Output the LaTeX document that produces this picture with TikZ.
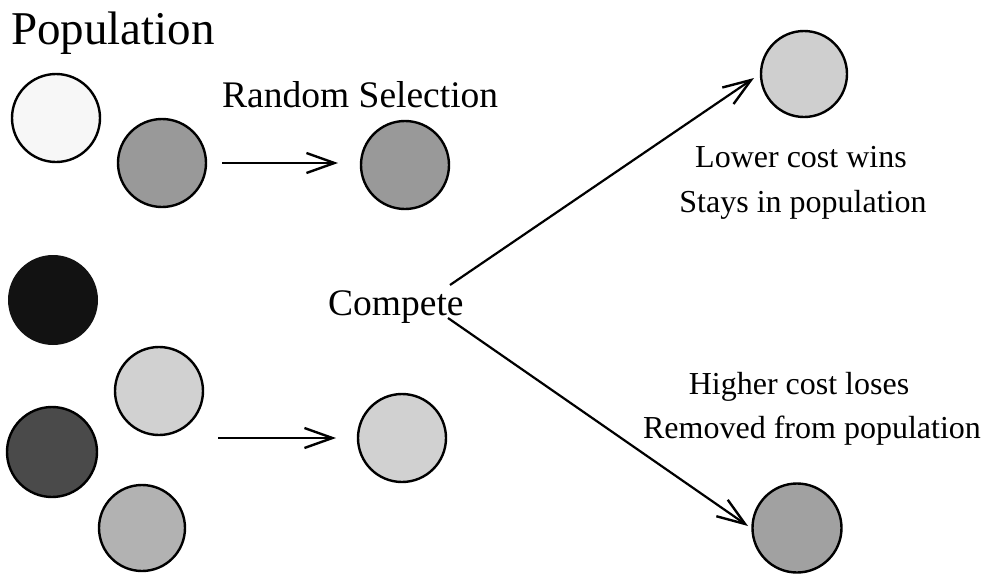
\documentclass[tikz,border=0pt]{standalone}
\usepackage{fontspec}
\setmainfont{Liberation Serif}
\usetikzlibrary{arrows.meta}
\begin{document}
\begin{tikzpicture}[x=1pt,y=-1pt,
  ball/.style={circle,draw=black,line width=2.4pt,minimum size=#1,inner sep=0pt},
  ball/.default=88pt,
  conn/.style={line width=2.2pt,-{Straight Barb[length=28pt,width=20pt,line width=2.4pt]}},
  lbig/.style={font=\fontsize{47}{50}\selectfont,inner sep=0pt},
  lmid/.style={font=\fontsize{37.5}{42}\selectfont,inner sep=0pt},
  lsmall/.style={font=\fontsize{32}{36}\selectfont,inner sep=0pt}]
\path[use as bounding box,fill=white] (0,0) rectangle (989,576);
% texts
\node[lbig,anchor=base west] (pop) at (11,44) {Population};
\node[lmid,anchor=base west] (rs) at (222,107) {Random Selection};
\node[lmid,anchor=base west] (cmp) at (328,315) {Compete};
\node[lsmall,anchor=base] (lw) at (801,167) {Lower cost wins};
\node[lsmall,anchor=base] (sp) at (803,212) {Stays in population};
\node[lsmall,anchor=base] (hl) at (799,394) {Higher cost loses};
\node[lsmall,anchor=base] (rp) at (812,438) {Removed from population};
% population
\node[ball,fill=black!3] (p1) at (56,118) {};
\node[ball,fill=black!40] (p2) at (162,163) {};
\node[ball=90pt,draw=none,fill=black!93] (p3) at (53,300) {};
\node[ball,fill=black!18] (p4) at (159,391) {};
\node[ball=90pt,fill=black!71] (p5) at (52,452) {};
\node[ball=86pt,fill=black!30] (p6) at (142,528) {};
% selected
\node[ball,fill=black!40] (s1) at (405,165) {};
\node[ball,fill=black!18] (s2) at (402,438) {};
% results
\node[ball=86pt,fill=black!19] (w) at (804,74) {};
\node[ball=89pt,fill=black!37] (l) at (797,528) {};
% connectors
\coordinate (a1s) at (222,163);
\coordinate (a1e) at (338,163);
\coordinate (a2s) at (218,438);
\coordinate (a2e) at (336,438);
\coordinate (cu) at (450,285);
\coordinate (cl) at (448,318);
\coordinate (wt) at (754,78);
\coordinate (lt) at (748,526);
\draw[conn] (a1s) -- (a1e);
\draw[conn] (a2s) -- (a2e);
\draw[conn] (cu) -- (wt);
\draw[conn] (cl) -- (lt);
\end{tikzpicture}
\end{document}
